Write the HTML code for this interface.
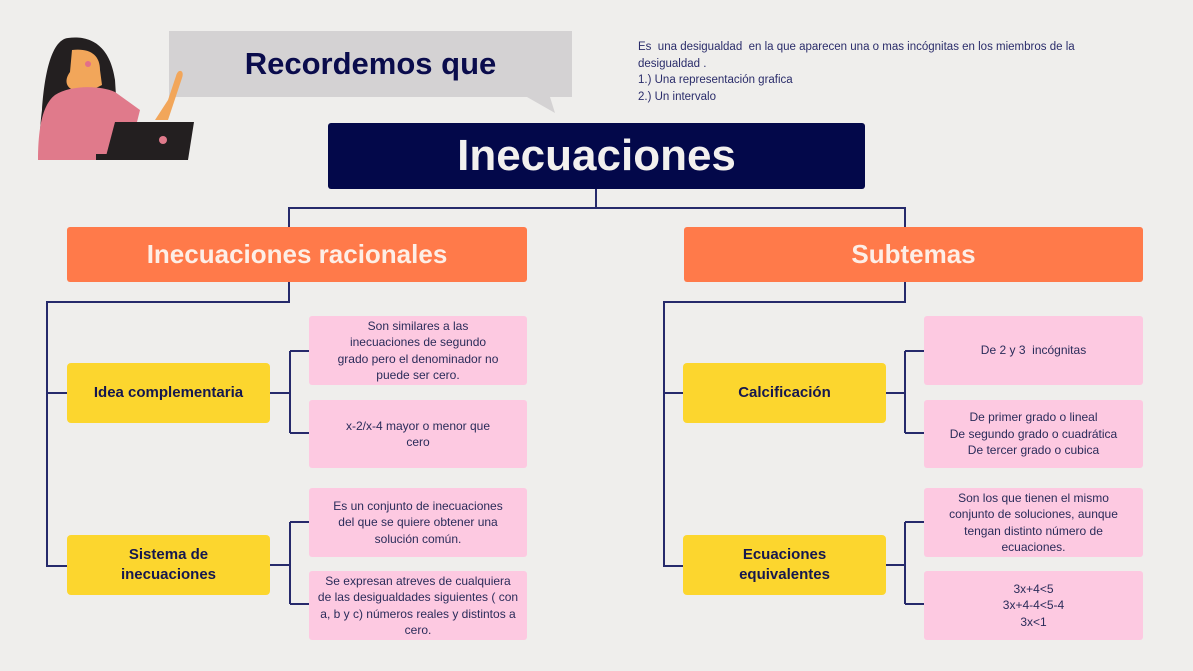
<!DOCTYPE html>
<html><head><meta charset="utf-8"><style>
body{margin:0;width:1193px;height:671px;background:#efeeec;position:relative;overflow:hidden;font-family:"Liberation Sans",sans-serif;}
.b{position:absolute;display:flex;align-items:center;justify-content:center;text-align:center;box-sizing:border-box;}
.o{background:#ff7a4a;color:#fdeee6;font-weight:bold;font-size:26px;border-radius:3px;}
.y{background:#fcd62e;color:#15174f;font-weight:bold;font-size:15px;border-radius:4px;line-height:20px;}
.p{background:#fdc9e1;color:#2a2c5a;font-size:12px;line-height:16.5px;border-radius:3px;padding:0 22px;}
svg{position:absolute;left:0;top:0}
</style></head><body>
<svg width="1193" height="671">
<g stroke="#262a6b" stroke-width="2" fill="none">
<path d="M596 189V208M289 227V208H905V227"/>
<path d="M289 282V302H47V566H67M47 393H67"/>
<path d="M905 282V302H664V566H684M664 393H684"/>
<path d="M270 393H290M290 351V433M290 351H309M290 433H309"/>
<path d="M270 565H290M290 522V604M290 522H309M290 604H309"/>
<path d="M886 393H905M905 351V433M905 351H924M905 433H924"/>
<path d="M886 565H905M905 522V604M905 522H924M905 604H924"/>
</g>
<path d="M169 31H572V97H550L555 113L527 97H169Z" fill="#d4d2d3"/>
<path d="M68 38C50 40 44 80 42 110C38 140 40 160 50 160H120L115 80C110 45 90 35 68 38Z" fill="#231f20"/>
<path d="M72 50C90 48 100 55 100 70L102 85L88 92L88 100L75 100L74 90C66 88 64 80 70 72Z" fill="#f2a65a"/>
<circle cx="88" cy="64" r="3" fill="#e26f8a"/>
<path d="M55 95C70 85 100 85 115 92L140 110L135 130L120 125L125 160H38C38 130 42 105 55 95Z" fill="#e07a8b"/>
<path d="M155 120L168 120L182 78C185 70 178 68 176 76L168 100Z" fill="#f2a65a"/>
<path d="M115 122H194L188 160H105Z" fill="#231f20"/>
<rect x="96" y="154" width="70" height="6" fill="#231f20"/>
<circle cx="163" cy="140" r="4" fill="#e07a8b"/>
</svg>
<div class="b" style="left:169px;top:31px;width:403px;height:66px;color:#0a0c4c;font-weight:bold;font-size:31px;">Recordemos que</div>
<div style="position:absolute;left:638px;top:39px;font-size:11.5px;line-height:16.5px;color:#2a2c6a;width:500px">Es &nbsp;una desigualdad &nbsp;en la que aparecen una o mas incógnitas en los miembros de la<br>desigualdad .<br>1.) Una representación grafica<br>2.) Un intervalo</div>
<div class="b" style="left:328px;top:123px;width:537px;height:66px;background:#03084a;color:#f2f0ee;font-weight:bold;font-size:44px;border-radius:3px;">Inecuaciones</div>
<div class="b o" style="left:67px;top:227px;width:460px;height:55px;">Inecuaciones racionales</div>
<div class="b o" style="left:684px;top:227px;width:459px;height:55px;">Subtemas</div>
<div class="b y" style="left:67px;top:363px;width:203px;height:60px;">Idea complementaria</div>
<div class="b y" style="left:67px;top:535px;width:203px;height:60px;">Sistema de<br>inecuaciones</div>
<div class="b y" style="left:683px;top:363px;width:203px;height:60px;">Calcificación</div>
<div class="b y" style="left:683px;top:535px;width:203px;height:60px;">Ecuaciones<br>equivalentes</div>
<div class="b p" style="left:309px;top:316px;width:218px;height:69px;padding:0 26px">Son similares a las inecuaciones de segundo grado pero el denominador no puede ser cero.</div>
<div class="b p" style="left:309px;top:400px;width:218px;height:68px;padding-left:26px;padding-right:26px">x-2/x-4 mayor o menor que cero</div>
<div class="b p" style="left:309px;top:488px;width:218px;height:69px;">Es un conjunto de inecuaciones del que se quiere obtener una solución común.</div>
<div class="b p" style="left:309px;top:571px;width:218px;height:69px;padding:0 8px">Se expresan atreves de cualquiera de las desigualdades siguientes ( con a, b y c) números reales y distintos a cero.</div>
<div class="b p" style="left:924px;top:316px;width:219px;height:69px;align-items:flex-start;padding-top:26px">De 2 y 3 &nbsp;incógnitas</div>
<div class="b p" style="left:924px;top:400px;width:219px;height:68px;">De primer grado o lineal<br>De segundo grado o cuadrática<br>De tercer grado o cubica</div>
<div class="b p" style="left:924px;top:488px;width:219px;height:69px;">Son los que tienen el mismo conjunto de soluciones, aunque tengan distinto número de ecuaciones.</div>
<div class="b p" style="left:924px;top:571px;width:219px;height:69px;">3x+4&lt;5<br>3x+4-4&lt;5-4<br>3x&lt;1</div>
</body></html>
